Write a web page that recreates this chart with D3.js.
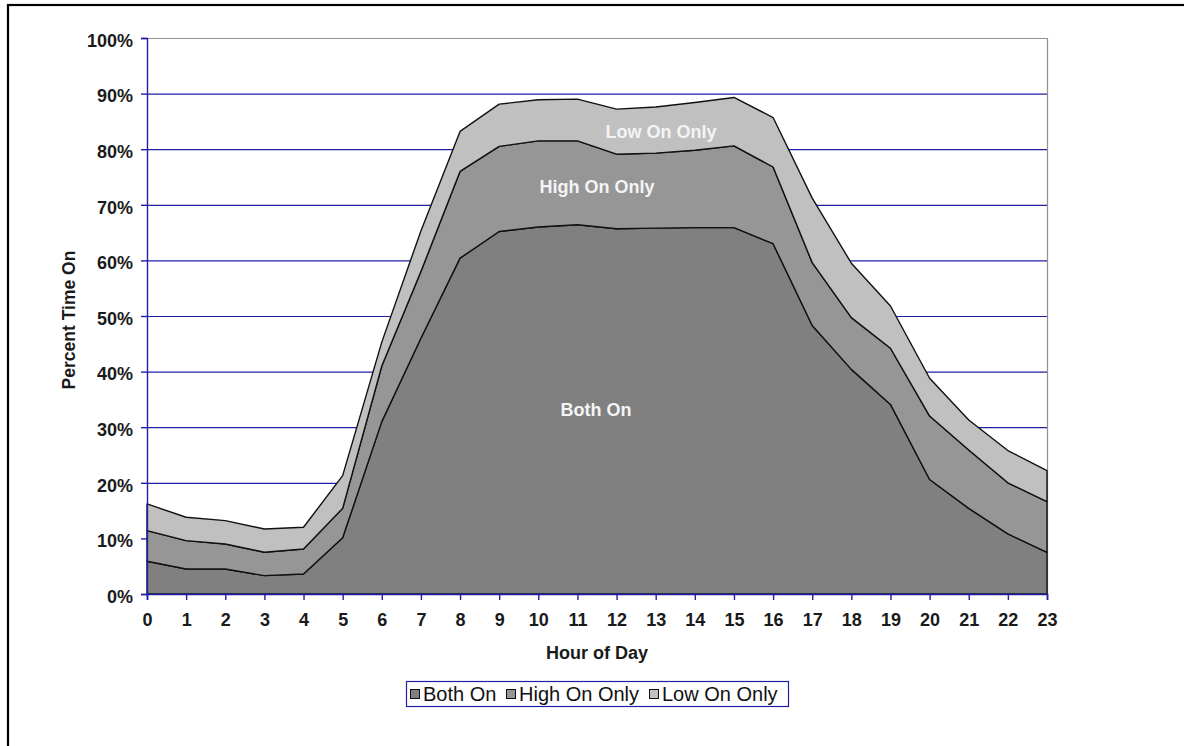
<!DOCTYPE html>
<html>
<head>
<meta charset="utf-8">
<script src="https://cdn.jsdelivr.net/npm/d3@7"></script>
<style>
  html, body { margin: 0; padding: 0; background: #fff; }
  svg { display: block; }
  text { font-family: Arial, "Liberation Sans", sans-serif; }
</style>
</head>
<body>
<script>
// ---- data ----
const hours = [0,1,2,3,4,5,6,7,8,9,10,11,12,13,14,15,16,17,18,19,20,21,22,23];
const bothOn     = [5.9,4.5,4.5,3.3,3.6,10.1,31.0,46.0,60.4,65.2,66.0,66.4,65.7,65.8,65.9,65.9,63.0,48.3,40.4,34.1,20.6,15.4,10.8,7.5];
const highOnOnly = [5.5,5.1,4.5,4.2,4.5,5.3,10.0,12.0,15.6,15.3,15.5,15.1,13.4,13.5,13.9,14.7,13.8,11.3,9.3,10.1,11.4,10.5,9.2,9.1];
const lowOnOnly  = [4.8,4.2,4.2,4.2,3.9,5.9,4.3,7.3,7.2,7.6,7.4,7.5,8.1,8.3,8.6,8.7,8.9,11.6,9.8,7.6,6.8,5.4,5.8,5.6];
const seriesNames = ["Both On", "High On Only", "Low On Only"];
const seriesColors = ["#808080", "#969696", "#c0c0c0"];
const yTicks = [0,10,20,30,40,50,60,70,80,90,100];

// ---- layout ----
const W = 1184, H = 746;
const FONT = "Arial, 'Liberation Sans', sans-serif";
const BLUE = "#1f1fa8";
const svg = d3.select("body").append("svg").attr("width", W).attr("height", H);

// outer frame (extends beyond the viewport on the right/bottom)
svg.append("rect").attr("x", 8).attr("y", 5).attr("width", 1300).attr("height", 900)
  .attr("fill", "none").attr("stroke", "#000").attr("stroke-width", 2.2);

const x = d3.scaleLinear().domain([0, 23]).range([147, 1047]);
const y = d3.scaleLinear().domain([0, 100]).range([594, 38]);

const table = hours.map((h, i) => ({ hour: h, "Both On": bothOn[i], "High On Only": highOnOnly[i], "Low On Only": lowOnOnly[i] }));
const stacked = d3.stack().keys(seriesNames)(table);

// gridlines
svg.append("g").selectAll("line").data(yTicks.filter(t => t > 0)).join("line")
  .attr("x1", x(0)).attr("x2", x(23))
  .attr("y1", d => y(d) + 0.5).attr("y2", d => y(d) + 0.5)
  .attr("stroke", d => d === 100 ? "#909090" : BLUE).attr("stroke-width", 1.2);
// plot right border
svg.append("line").attr("x1", x(23) + 0.5).attr("x2", x(23) + 0.5).attr("y1", y(100)).attr("y2", y(0))
  .attr("stroke", "#909090").attr("stroke-width", 1.2);

// areas
const area = d3.area()
  .x(d => x(d.data.hour))
  .y0(d => y(d[0]))
  .y1(d => y(d[1]));
svg.append("g").selectAll("path").data(stacked).join("path")
  .attr("d", area)
  .attr("fill", (d, i) => seriesColors[i])
  .attr("stroke", "#111").attr("stroke-width", 1.4).attr("stroke-linejoin", "round");

// axes
const yAxis = d3.axisLeft(y).tickValues(yTicks).tickFormat(d => d + "%").tickSize(6).tickPadding(8);
const gy = svg.append("g").attr("transform", `translate(${x(0)},0)`).call(yAxis);
gy.select(".domain").attr("stroke", BLUE).attr("stroke-width", 1.4);
gy.selectAll(".tick line").attr("stroke", BLUE).attr("stroke-width", 1.4);
gy.selectAll(".tick text").attr("font-size", 18).attr("font-weight", "bold").attr("fill", "#1a1a1a")
  .attr("font-family", FONT).attr("dy", "0.46em");

const xAxis = d3.axisBottom(x).tickValues(hours).tickFormat(d3.format("d")).tickSize(6).tickPadding(13);
const gx = svg.append("g").attr("transform", `translate(0,${y(0)})`).call(xAxis);
gx.select(".domain").attr("stroke", BLUE).attr("stroke-width", 1.6);
gx.selectAll(".tick line").attr("stroke", BLUE).attr("stroke-width", 1.4);
gx.selectAll(".tick text").attr("font-size", 18).attr("font-weight", "bold").attr("fill", "#1a1a1a")
  .attr("font-family", FONT);

// axis titles
svg.append("text").attr("x", 597).attr("y", 659).attr("text-anchor", "middle")
  .attr("font-size", 18).attr("font-weight", "bold").attr("fill", "#1a1a1a").text("Hour of Day");
svg.append("text").attr("transform", "translate(75,320) rotate(-90)").attr("text-anchor", "middle")
  .attr("font-size", 17.5).attr("font-weight", "bold").attr("fill", "#1a1a1a").text("Percent Time On");

// in-chart labels
const inLabels = [
  { text: "Low On Only", x: 661, y: 138 },
  { text: "High On Only", x: 597, y: 193 },
  { text: "Both On", x: 596, y: 416 }
];
svg.append("g").selectAll("text").data(inLabels).join("text")
  .attr("x", d => d.x).attr("y", d => d.y).attr("text-anchor", "middle")
  .attr("font-size", 18).attr("font-weight", "bold").attr("fill", "#f4f4f4").text(d => d.text);

// legend
const lg = svg.append("g");
lg.append("rect").attr("x", 406.5).attr("y", 681.5).attr("width", 382).attr("height", 25)
  .attr("fill", "#fff").attr("stroke", BLUE).attr("stroke-width", 1.2);
const legendX = [410, 506, 649];
seriesNames.forEach((name, i) => {
  lg.append("rect").attr("x", legendX[i] + 0.5).attr("y", 689.5).attr("width", 9).attr("height", 9)
    .attr("fill", seriesColors[i]).attr("stroke", "#111").attr("stroke-width", 1);
  lg.append("text").attr("x", legendX[i] + 13).attr("y", 701).attr("font-size", 20)
    .attr("fill", "#111").text(name);
});
</script>
</body>
</html>
